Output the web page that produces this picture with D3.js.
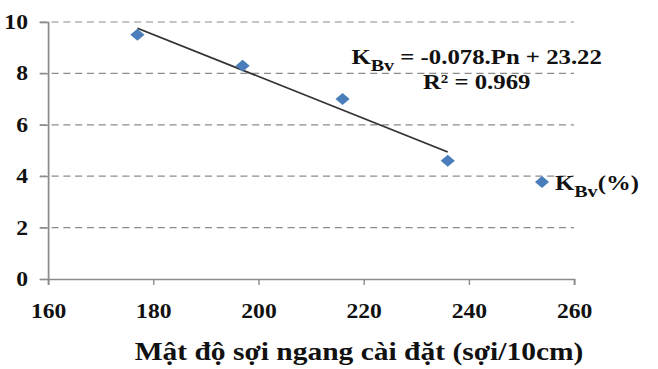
<!DOCTYPE html>
<html>
<head>
<meta charset="utf-8">
<script src="https://cdn.jsdelivr.net/npm/d3@7"></script>
<style>
  html, body { margin: 0; padding: 0; background: #fff; }
  svg { display: block; }
  text { font-family: "Liberation Serif", "Times New Roman", serif; font-weight: bold; fill: #111; }
</style>
</head>
<body>
<div id="chart"></div>
<script>
// data
var density = [177, 197, 216, 236];      // Pn (soi/10cm)
var kbv = [9.5, 8.3, 7.0, 4.6];          // K_Bv (%)
var xTicks = [160, 180, 200, 220, 240, 260];
var yTicks = [0, 2, 4, 6, 8, 10];
var eqText = ["K", "Bv", " = -0.078.Pn + 23.22"];
var r2Text = "R² = 0.969";
var xTitle = "Mật độ sợi ngang cài đặt (sợi/10cm)";
var legendText = ["K", "Bv", "(%)"];

// the picture is stretched sideways, so draw in a narrower box and stretch it
var stretch = 1.18;
var W = 658, H = 369;
var vw = W / stretch;
var margin = {top: 22, right: vw - 574 / stretch, bottom: H - 279, left: 48 / stretch};
var width = vw - margin.left - margin.right,
    height = H - margin.top - margin.bottom;

var svg = d3.select("#chart").append("svg")
  .attr("width", W)
  .attr("height", H)
  .attr("viewBox", "0 0 " + vw + " " + H)
  .attr("preserveAspectRatio", "none");

var g = svg.append("g")
  .attr("transform", "translate(" + margin.left + "," + margin.top + ")");

var x = d3.scaleLinear().domain([160, 260]).range([0, width]);
var y = d3.scaleLinear().domain([0, 10]).range([height, 0]);

// gridlines
g.selectAll(".grid")
  .data(yTicks.filter(function(d){ return d > 0; }))
  .enter().append("line")
  .attr("class", "grid")
  .attr("x1", -7).attr("x2", width)
  .attr("y1", function(d){ return y(d); })
  .attr("y2", function(d){ return y(d); })
  .attr("stroke", "#8c8c8c")
  .attr("stroke-width", 1.2)
  .attr("stroke-dasharray", "6,4");

// y axis
var yAxis = g.append("g")
  .call(d3.axisLeft(y).tickValues(yTicks).tickSize(7).tickPadding(10).tickFormat(d3.format("d")));
yAxis.select(".domain").attr("stroke", "#8c8c8c").attr("stroke-width", 1.5);
yAxis.selectAll(".tick line").attr("stroke", "#8c8c8c").attr("stroke-width", 1.2);
yAxis.selectAll(".tick text")
  .style("font-size", "20px").style("font-family", "Liberation Serif").style("font-weight", "bold").attr("fill", "#111");

// x axis
var xAxis = g.append("g")
  .attr("transform", "translate(0," + height + ")")
  .call(d3.axisBottom(x).tickValues(xTicks).tickSize(6).tickSizeOuter(6).tickPadding(19).tickFormat(d3.format("d")));
xAxis.select(".domain").attr("stroke", "#8c8c8c").attr("stroke-width", 1.5);
xAxis.selectAll(".tick line").attr("stroke", "#8c8c8c").attr("stroke-width", 1.2);
xAxis.selectAll(".tick text")
  .style("font-size", "20px").style("font-family", "Liberation Serif").style("font-weight", "bold").attr("fill", "#111");

// linear trend line (least squares on the points)
var mx = d3.mean(density), my = d3.mean(kbv);
var sxy = d3.sum(density, function(d, i){ return (d - mx) * (kbv[i] - my); });
var sxx = d3.sum(density, function(d){ return (d - mx) * (d - mx); });
var slope = sxy / sxx, icpt = my - slope * mx;
var ext = d3.extent(density);
g.append("line")
  .attr("x1", x(ext[0])).attr("y1", y(slope * ext[0] + icpt))
  .attr("x2", x(ext[1])).attr("y2", y(slope * ext[1] + icpt))
  .attr("stroke", "#333")
  .attr("stroke-width", 1.6);

// points
var diamond = d3.symbol().type(d3.symbolSquare).size(72);
g.selectAll(".pt")
  .data(density)
  .enter().append("path")
  .attr("class", "pt")
  .attr("d", diamond)
  .attr("transform", function(d, i){ return "translate(" + x(d) + "," + y(kbv[i]) + ") rotate(45)"; })
  .attr("fill", "#4a7ebb");

// equation
var eq = g.append("text")
  .attr("x", x(241.5))
  .attr("y", y(8.35))
  .attr("text-anchor", "middle")
  .style("font-size", "21px");
eq.append("tspan").text(eqText[0]);
eq.append("tspan").attr("dy", 7).style("font-size", "17px").text(eqText[1]);
eq.append("tspan").attr("dy", -7).text(eqText[2]);

g.append("text")
  .attr("x", x(241.5))
  .attr("y", y(7.4))
  .attr("text-anchor", "middle")
  .style("font-size", "21px")
  .text(r2Text);

// legend
var lg = svg.append("g")
  .attr("transform", "translate(" + (542 / stretch) + ",182)");
lg.append("path")
  .attr("d", diamond)
  .attr("transform", "rotate(45)")
  .attr("fill", "#4a7ebb");
var lt = lg.append("text")
  .attr("x", 11)
  .attr("y", 8)
  .style("font-size", "21px");
lt.append("tspan").text(legendText[0]);
lt.append("tspan").attr("dy", 7).style("font-size", "17px").text(legendText[1]);
lt.append("tspan").attr("dy", -7).text(legendText[2]);

// x axis title
svg.append("text")
  .attr("x", 359 / stretch)
  .attr("y", 360)
  .attr("text-anchor", "middle")
  .style("font-size", "25px")
  .text(xTitle);
</script>
</body>
</html>
